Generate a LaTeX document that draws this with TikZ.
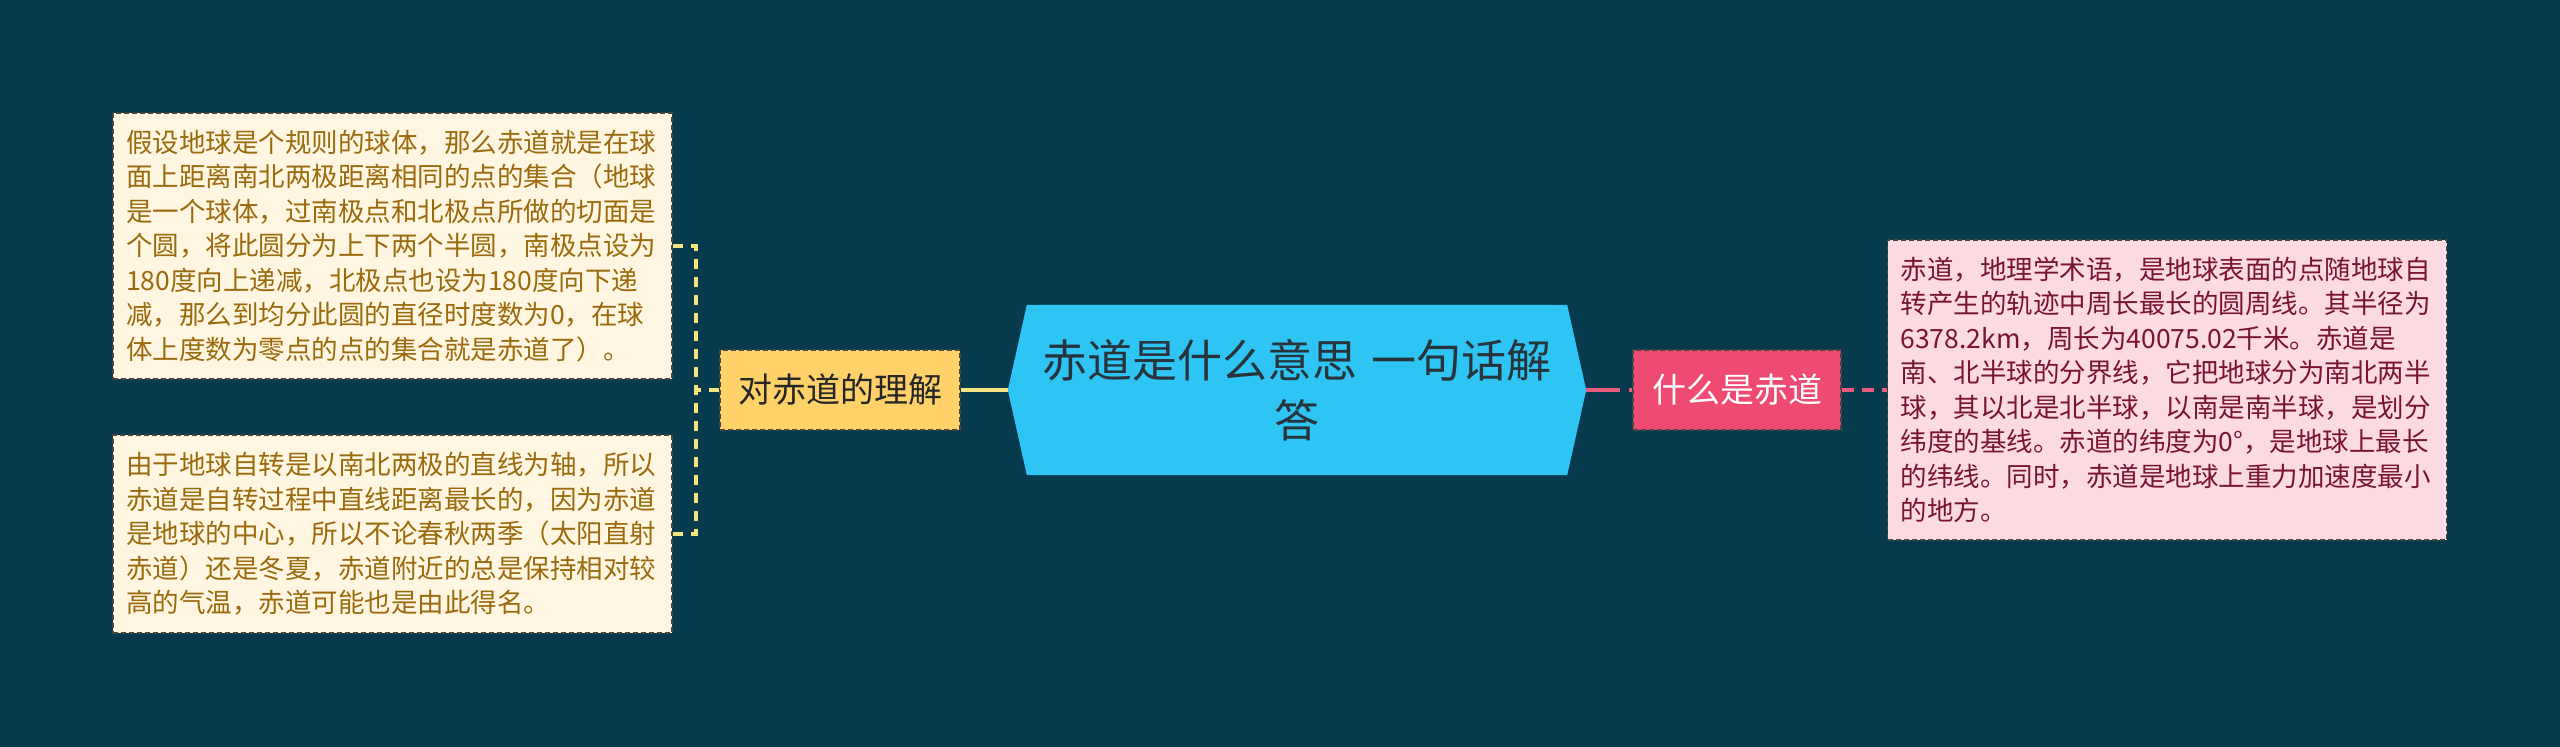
\documentclass[tikz,border=0pt]{standalone}
\usepackage{fontspec}
\newfontfamily\cjk{Noto Sans CJK SC}
\usepackage{tikz}
\usetikzlibrary{
	positioning, calc, backgrounds
}
\definecolor{bgteal}     {RGB}{8,   58,  77}
\definecolor{corecyan}   {RGB}{46,  196, 243}
\definecolor{coreink}    {RGB}{40,  52,  60}
\definecolor{sunyellow}  {RGB}{255, 210, 105}
\definecolor{linkyellow} {RGB}{245, 228, 130}
\definecolor{creamfill}  {RGB}{254, 246, 224}
\definecolor{goldink}    {RGB}{155, 106, 12}
\definecolor{rosered}    {RGB}{238, 74,  114}
\definecolor{linkpink}   {RGB}{232, 92,  126}
\definecolor{blushfill}  {RGB}{252, 218, 225}
\definecolor{wineink}    {RGB}{120, 20,  50}
\definecolor{edgedark}   {RGB}{70,  70,  62}

\begin{document}
\begin{tikzpicture}[x=1pt,y=-1pt,
	edged/.style={draw=edgedark, line width=1.2pt, dash pattern=on 5pt off 3pt},
	notebox/.style={edged, align=left, inner xsep=13pt, inner ysep=0pt, text width=533pt,
		font=\cjk\fontsize{26.5}{34.5}\selectfont},
	topicbox/.style={edged, inner sep=0pt, minimum height=80pt, font=\cjk\fontsize{34}{40}\selectfont},
	ylink/.style={draw=linkyellow, line width=3.5pt},
	plink/.style={draw=linkpink, line width=3.5pt}
	]
	\useasboundingbox (0,0) rectangle (2560,747);
	\begin{scope}[on background layer]
		\fill[bgteal] (0,0) rectangle (2560,747);
	\end{scope}

	\node[align=center, inner sep=0pt, minimum width=578pt, minimum height=170pt, text=coreink,
		font=\cjk\fontsize{45}{60}\selectfont] (core) at (1297,390) {赤道是什么意思\hspace{14pt}一句话解\\答};
	\begin{scope}[on background layer]
		\fill[corecyan] (core.west) -- ([xshift=19pt]core.north west) -- ([xshift=-19pt]core.north east)
			-- (core.east) -- ([xshift=-19pt]core.south east) -- ([xshift=19pt]core.south west) -- cycle;
	\end{scope}

	\node[topicbox, fill=sunyellow, text=black!85, minimum width=240pt] (grasp) at (840,390) {对赤道的理解};
	\node[topicbox, fill=rosered, text=white, minimum width=208pt] (whatis) at (1737,390) {什么是赤道};

	\node[notebox, fill=creamfill, text=goldink, minimum height=266pt] (sphere) at (392.5,246) {假设地球是个规则的球体，那么赤道就是在球\\面上距离南北两极距离相同的点的集合（地球\\是一个球体，过南极点和北极点所做的切面是\\个圆，将此圆分为上下两个半圆，南极点设为\\180度向上递减，北极点也设为180度向下递\\减，那么到均分此圆的直径时度数为0，在球\\体上度数为零点的点的集合就是赤道了）。};
	\node[notebox, fill=creamfill, text=goldink, minimum height=198pt] (axis) at (392.5,534) {由于地球自转是以南北两极的直线为轴，所以\\赤道是自转过程中直线距离最长的，因为赤道\\是地球的中心，所以不论春秋两季（太阳直射\\赤道）还是冬夏，赤道附近的总是保持相对较\\高的气温，赤道可能也是由此得名。};
	\node[notebox, fill=blushfill, text=wineink, minimum height=300pt] (define) at (2167,390) {赤道，地理学术语，是地球表面的点随地球自\\转产生的轨迹中周长最长的圆周线。其半径为\\6378.2km，周长为40075.02千米。赤道是\\南、北半球的分界线，它把地球分为南北两半\\球，其以北是北半球，以南是南半球，是划分\\纬度的基线。赤道的纬度为0°，是地球上最长\\的纬线。同时，赤道是地球上重力加速度最小\\的地方。};

	\coordinate (brace) at (696,390);
	\draw[ylink] (core.west) -- (grasp.east);
	\draw[ylink, dash pattern=on 10pt off 8pt] (grasp.west) -- (brace);
	\draw[ylink, dash pattern=on 10pt off 8pt] (sphere.east) -| (brace) |- (axis.east);
	\draw[plink, dash pattern=on 34pt off 9pt] (core.east) -- (whatis.west);
	\draw[plink, dash pattern=on 12pt off 8pt] (whatis.east) -- (define.west);
\end{tikzpicture}
\end{document}
